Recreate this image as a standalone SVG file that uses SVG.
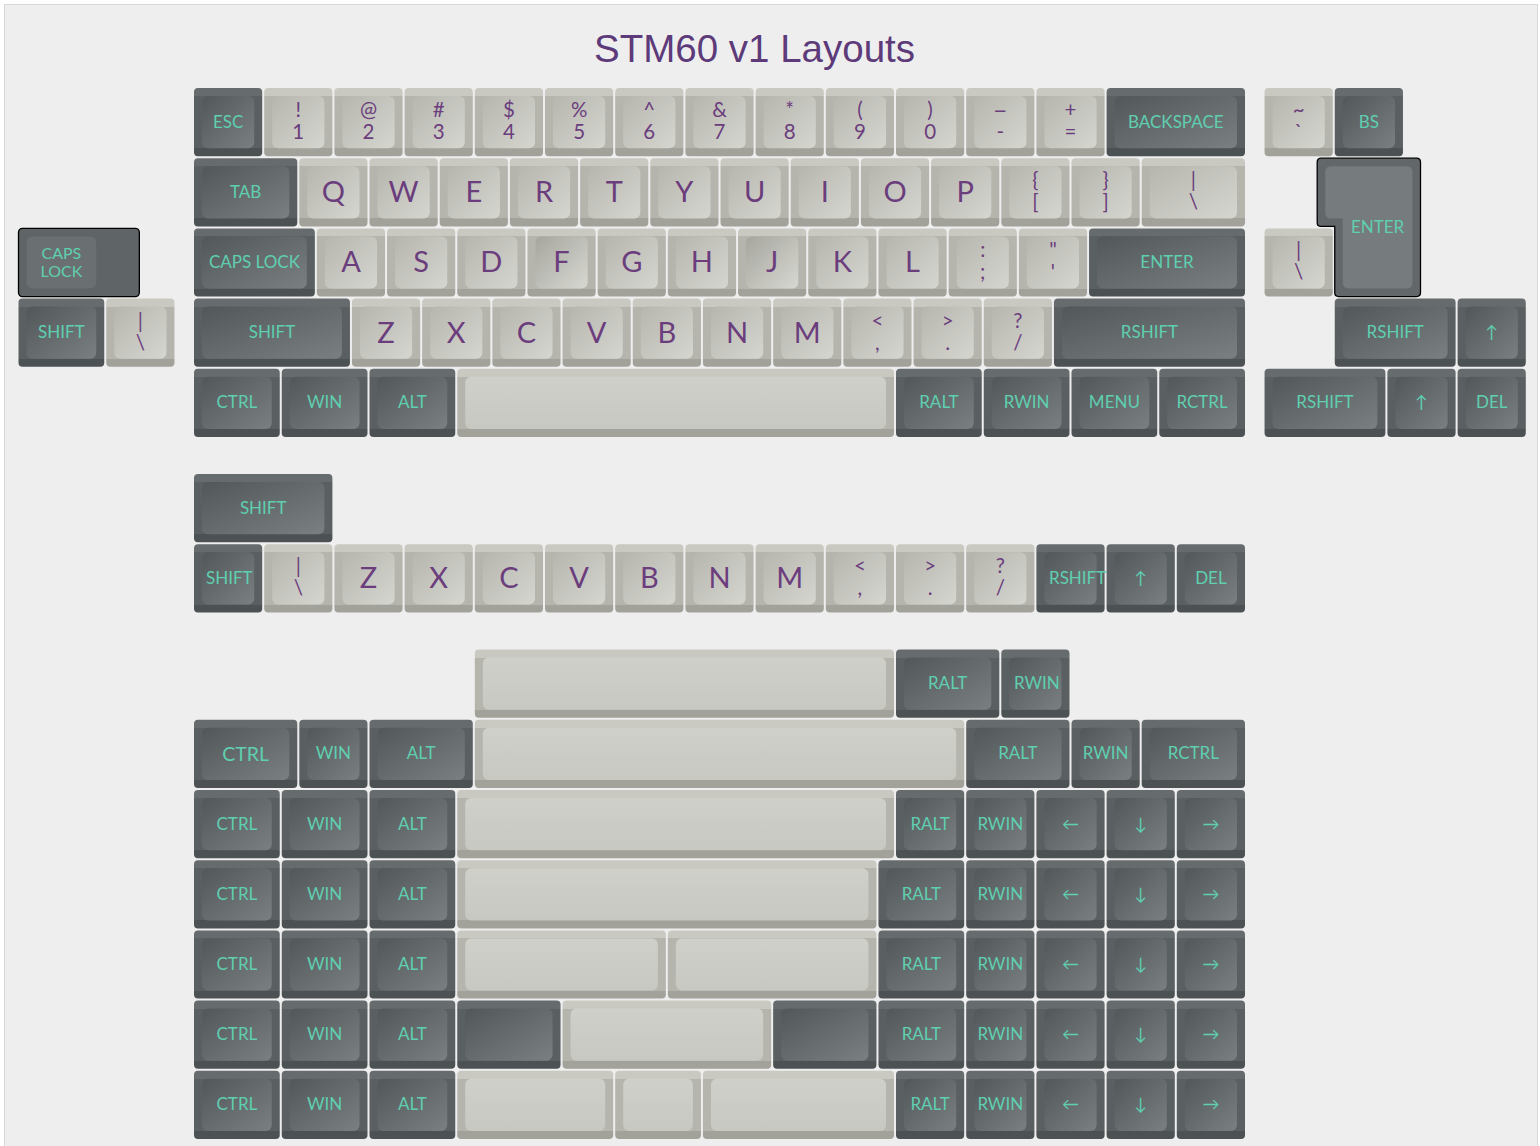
<svg xmlns="http://www.w3.org/2000/svg" xmlns:xlink="http://www.w3.org/1999/xlink" width="1540" height="1146" viewBox="0 0 1540 1146">
<defs>
<style>
.do{fill:url(#gdo)}
.di{fill:url(#gdi)}
.lo{fill:url(#glo)}
.li{fill:url(#gli)}
.lh{fill:url(#glh)}
.ls{fill:url(#gls)}
.t{font-family:Lato,"Noto Sans",sans-serif;font-size:17px;fill:#5fcfb0;text-anchor:middle}
.ts{text-anchor:start}
.p{font-family:Lato,"Noto Sans",sans-serif;font-size:20.5px;fill:#6b3d7d;text-anchor:middle}
.P{font-size:29px}
</style>
<linearGradient id="gdo" x1="0" y1="0" x2="0" y2="1">
<stop offset="0" stop-color="#666b6d"/><stop offset="0.117" stop-color="#666b6d"/><stop offset="0.117" stop-color="#5a5f61"/><stop offset="0.883" stop-color="#5a5f61"/><stop offset="0.883" stop-color="#4c5153"/><stop offset="1" stop-color="#4c5153"/>
</linearGradient>
<linearGradient id="gdi" x1="0" y1="0" x2="1" y2="1">
<stop offset="0" stop-color="#52575a"/><stop offset="1" stop-color="#7a8082"/>
</linearGradient>
<linearGradient id="glo" x1="0" y1="0" x2="0" y2="1">
<stop offset="0" stop-color="#c9c9c2"/><stop offset="0.117" stop-color="#c9c9c2"/><stop offset="0.117" stop-color="#b5b5ae"/><stop offset="0.883" stop-color="#b5b5ae"/><stop offset="0.883" stop-color="#a2a29b"/><stop offset="1" stop-color="#a2a29b"/>
</linearGradient>
<linearGradient id="gli" x1="0" y1="0" x2="1" y2="1">
<stop offset="0" stop-color="#b6b6af"/><stop offset="1" stop-color="#d6d6d0"/>
</linearGradient>
<linearGradient id="glh" x1="0" y1="0" x2="1" y2="1">
<stop offset="0" stop-color="#a6a69f"/><stop offset="1" stop-color="#d8d8d2"/>
</linearGradient>
<linearGradient id="gls" x1="0" y1="0" x2="0" y2="1">
<stop offset="0" stop-color="#d0d0ca"/><stop offset="1" stop-color="#c8c8c2"/>
</linearGradient>
<g id="D1"><rect class="do" width="68.2" height="68.2" rx="4"/><rect class="di" x="8" y="8" width="52.2" height="52.2" rx="6"/></g>
<g id="D125"><rect class="do" width="85.75" height="68.2" rx="4"/><rect class="di" x="8" y="8" width="69.75" height="52.2" rx="6"/></g>
<g id="D15"><rect class="do" width="103.3" height="68.2" rx="4"/><rect class="di" x="8" y="8" width="87.3" height="52.2" rx="6"/></g>
<g id="D175"><rect class="do" width="120.85" height="68.2" rx="4"/><rect class="di" x="8" y="8" width="104.85" height="52.2" rx="6"/></g>
<g id="D2"><rect class="do" width="138.4" height="68.2" rx="4"/><rect class="di" x="8" y="8" width="122.4" height="52.2" rx="6"/></g>
<g id="D225"><rect class="do" width="155.95" height="68.2" rx="4"/><rect class="di" x="8" y="8" width="139.95" height="52.2" rx="6"/></g>
<g id="D275"><rect class="do" width="191.05" height="68.2" rx="4"/><rect class="di" x="8" y="8" width="175.05" height="52.2" rx="6"/></g>
<g id="L1"><rect class="lo" width="68.2" height="68.2" rx="4"/><rect class="li" x="8" y="8" width="52.2" height="52.2" rx="6"/></g>
<g id="L1h"><rect class="lo" width="68.2" height="68.2" rx="4"/><rect class="lh" x="8" y="8" width="52.2" height="52.2" rx="6"/></g>
<g id="L15"><rect class="lo" width="103.3" height="68.2" rx="4"/><rect class="li" x="8" y="8" width="87.3" height="52.2" rx="6"/></g>
</defs>
<rect width="1540" height="1146" fill="#ffffff"/>
<rect x="4.5" y="4.5" width="1533" height="1160" fill="#eeeeee" stroke="#d8d8d8"/>
<text id="title" x="754.5" y="62" font-family="Liberation Sans,Arial,sans-serif" font-size="38.5" fill="#5d3a79" text-anchor="middle">STM60 v1 Layouts</text>

<g id="row0">
<g id="k-esc"><use href="#D1" x="194" y="88"/><text class="t" x="228.1" y="127.5">ESC</text></g>
<g id="k-1"><use href="#L1" x="264.2" y="88"/><text class="p" x="298.3" y="117">!</text><text class="p" x="298.3" y="139">1</text></g>
<g id="k-2"><use href="#L1" x="334.4" y="88"/><text class="p" x="368.5" y="117">@</text><text class="p" x="368.5" y="139">2</text></g>
<g id="k-3"><use href="#L1" x="404.6" y="88"/><text class="p" x="438.7" y="117">#</text><text class="p" x="438.7" y="139">3</text></g>
<g id="k-4"><use href="#L1" x="474.8" y="88"/><text class="p" x="508.9" y="117">$</text><text class="p" x="508.9" y="139">4</text></g>
<g id="k-5"><use href="#L1" x="545" y="88"/><text class="p" x="579.1" y="117">%</text><text class="p" x="579.1" y="139">5</text></g>
<g id="k-6"><use href="#L1" x="615.2" y="88"/><text class="p" x="649.3" y="117">^</text><text class="p" x="649.3" y="139">6</text></g>
<g id="k-7"><use href="#L1" x="685.4" y="88"/><text class="p" x="719.5" y="117">&amp;</text><text class="p" x="719.5" y="139">7</text></g>
<g id="k-8"><use href="#L1" x="755.6" y="88"/><text class="p" x="789.7" y="117">*</text><text class="p" x="789.7" y="139">8</text></g>
<g id="k-9"><use href="#L1" x="825.8" y="88"/><text class="p" x="859.9" y="117">(</text><text class="p" x="859.9" y="139">9</text></g>
<g id="k-0"><use href="#L1" x="896" y="88"/><text class="p" x="930.1" y="117">)</text><text class="p" x="930.1" y="139">0</text></g>
<g id="k-minus"><use href="#L1" x="966.2" y="88"/><text class="p" x="1000.3" y="108" style="font-size:26px">_</text><text class="p" x="1000.3" y="139">-</text></g>
<g id="k-equal"><use href="#L1" x="1036.4" y="88"/><text class="p" x="1070.5" y="117">+</text><text class="p" x="1070.5" y="139">=</text></g>
<g id="k-bksp"><use href="#D2" x="1106.6" y="88"/><text class="t" x="1175.8" y="127.5">BACKSPACE</text></g>
<g id="k-grave"><use href="#L1" x="1264.55" y="88"/><text class="p" x="1298.65" y="117">~</text><text class="p" x="1298.65" y="139">`</text></g>
<g id="k-bs"><use href="#D1" x="1334.75" y="88"/><text class="t" x="1368.85" y="127.5">BS</text></g>
</g>

<g id="row1">
<g id="k-tab"><use href="#D15" x="194" y="158.2"/><text class="t" x="245.65" y="197.7">TAB</text></g>
<g id="k-q"><use href="#L1" x="299.3" y="158.2"/><text class="p P" x="333.4" y="202.2">Q</text></g>
<g id="k-w"><use href="#L1" x="369.5" y="158.2"/><text class="p P" x="403.6" y="202.2">W</text></g>
<g id="k-e"><use href="#L1" x="439.7" y="158.2"/><text class="p P" x="473.8" y="202.2">E</text></g>
<g id="k-r"><use href="#L1" x="509.9" y="158.2"/><text class="p P" x="544" y="202.2">R</text></g>
<g id="k-t"><use href="#L1" x="580.1" y="158.2"/><text class="p P" x="614.2" y="202.2">T</text></g>
<g id="k-y"><use href="#L1" x="650.3" y="158.2"/><text class="p P" x="684.4" y="202.2">Y</text></g>
<g id="k-u"><use href="#L1" x="720.5" y="158.2"/><text class="p P" x="754.6" y="202.2">U</text></g>
<g id="k-i"><use href="#L1" x="790.7" y="158.2"/><text class="p P" x="824.8" y="202.2">I</text></g>
<g id="k-o"><use href="#L1" x="860.9" y="158.2"/><text class="p P" x="895" y="202.2">O</text></g>
<g id="k-p"><use href="#L1" x="931.1" y="158.2"/><text class="p P" x="965.2" y="202.2">P</text></g>
<g id="k-lbr"><use href="#L1" x="1001.3" y="158.2"/><text class="p" x="1035.4" y="187.2">{</text><text class="p" x="1035.4" y="209.2">[</text></g>
<g id="k-rbr"><use href="#L1" x="1071.5" y="158.2"/><text class="p" x="1105.6" y="187.2">}</text><text class="p" x="1105.6" y="209.2">]</text></g>
<g id="k-bsl"><use href="#L15" x="1141.7" y="158.2"/><text class="p" x="1193.35" y="187.2">|</text><text class="p" x="1193.35" y="209.2">\</text></g>
<g id="k-isoenter">
<path d="M1321.2,158.2 H1416.5 Q1420.5,158.2 1420.5,162.2 V292.6 Q1420.5,296.6 1416.5,296.6 H1338.75 Q1334.75,296.6 1334.75,292.6 V226.4 H1321.2 Q1317.2,226.4 1317.2,222.4 V162.2 Q1317.2,158.2 1321.2,158.2 Z" fill="#62676a" stroke="#000" stroke-width="1.3"/>
<path d="M1331.2,166.2 H1406.5 Q1412.5,166.2 1412.5,172.2 V282.6 Q1412.5,288.6 1406.5,288.6 H1348.75 Q1342.75,288.6 1342.75,282.6 V218.4 H1331.2 Q1325.2,218.4 1325.2,212.4 V172.2 Q1325.2,166.2 1331.2,166.2 Z" fill="#767b7d"/>
<text class="t" x="1377.6" y="233">ENTER</text>
</g>
</g>

<g id="row2">
<g id="k-caps"><use href="#D175" x="194" y="228.4"/><text class="t" x="254.4" y="267.9">CAPS LOCK</text></g>
<g id="k-a"><use href="#L1" x="316.85" y="228.4"/><text class="p P" x="350.95" y="272.4">A</text></g>
<g id="k-s"><use href="#L1" x="387.05" y="228.4"/><text class="p P" x="421.15" y="272.4">S</text></g>
<g id="k-d"><use href="#L1" x="457.25" y="228.4"/><text class="p P" x="491.35" y="272.4">D</text></g>
<g id="k-f"><use href="#L1h" x="527.45" y="228.4"/><text class="p P" x="561.55" y="272.4">F</text></g>
<g id="k-g"><use href="#L1" x="597.65" y="228.4"/><text class="p P" x="631.75" y="272.4">G</text></g>
<g id="k-h"><use href="#L1" x="667.85" y="228.4"/><text class="p P" x="701.95" y="272.4">H</text></g>
<g id="k-j"><use href="#L1h" x="738.05" y="228.4"/><text class="p P" x="772.15" y="272.4">J</text></g>
<g id="k-k"><use href="#L1" x="808.25" y="228.4"/><text class="p P" x="842.35" y="272.4">K</text></g>
<g id="k-l"><use href="#L1" x="878.45" y="228.4"/><text class="p P" x="912.55" y="272.4">L</text></g>
<g id="k-semi"><use href="#L1" x="948.65" y="228.4"/><text class="p" x="982.75" y="257.4">:</text><text class="p" x="982.75" y="279.4">;</text></g>
<g id="k-quote"><use href="#L1" x="1018.85" y="228.4"/><text class="p" x="1052.95" y="257.4">"</text><text class="p" x="1052.95" y="279.4">'</text></g>
<g id="k-enter"><use href="#D225" x="1089.05" y="228.4"/><text class="t" x="1167" y="267.9">ENTER</text></g>
<g id="k-capsstep">
<rect x="18.5" y="228.4" width="120.85" height="68.2" rx="4" fill="#5f6466" stroke="#000" stroke-width="1.3"/>
<rect x="26.5" y="236.4" width="69.75" height="52.2" rx="6" fill="#6a6f71"/>
<text class="t" x="61.4" y="259" style="font-size:16px">CAPS</text><text class="t" x="61.4" y="276.5" style="font-size:16px">LOCK</text>
</g>
<g id="k-bsl2"><use href="#L1" x="1264.55" y="228.4"/><text class="p" x="1298.65" y="257.4">|</text><text class="p" x="1298.65" y="279.4">\</text></g>
</g>

<g id="row3">
<g id="k-lshift"><use href="#D225" x="194" y="298.6"/><text class="t" x="271.98" y="338.1">SHIFT</text></g>
<g id="k-z"><use href="#L1" x="351.95" y="298.6"/><text class="p P" x="386.05" y="342.6">Z</text></g>
<g id="k-x"><use href="#L1" x="422.15" y="298.6"/><text class="p P" x="456.25" y="342.6">X</text></g>
<g id="k-c"><use href="#L1" x="492.35" y="298.6"/><text class="p P" x="526.45" y="342.6">C</text></g>
<g id="k-v"><use href="#L1" x="562.55" y="298.6"/><text class="p P" x="596.65" y="342.6">V</text></g>
<g id="k-b"><use href="#L1" x="632.75" y="298.6"/><text class="p P" x="666.85" y="342.6">B</text></g>
<g id="k-n"><use href="#L1" x="702.95" y="298.6"/><text class="p P" x="737.05" y="342.6">N</text></g>
<g id="k-m"><use href="#L1" x="773.15" y="298.6"/><text class="p P" x="807.25" y="342.6">M</text></g>
<g id="k-comma"><use href="#L1" x="843.35" y="298.6"/><text class="p" x="877.45" y="327.6">&lt;</text><text class="p" x="877.45" y="349.6">,</text></g>
<g id="k-dot"><use href="#L1" x="913.55" y="298.6"/><text class="p" x="947.65" y="327.6">&gt;</text><text class="p" x="947.65" y="349.6">.</text></g>
<g id="k-slash"><use href="#L1" x="983.75" y="298.6"/><text class="p" x="1017.85" y="327.6">?</text><text class="p" x="1017.85" y="349.6">/</text></g>
<g id="k-rshift"><use href="#D275" x="1053.95" y="298.6"/><text class="t" x="1149.5" y="338.1">RSHIFT</text></g>
<g id="k-lshift2"><use href="#D125" x="18.5" y="298.6"/><text class="t" x="61.4" y="338.1">SHIFT</text></g>
<g id="k-bsl3"><use href="#L1" x="106.25" y="298.6"/><text class="p" x="140.35" y="327.6">|</text><text class="p" x="140.35" y="349.6">\</text></g>
<g id="k-rshift2"><use href="#D175" x="1334.75" y="298.6"/><text class="t" x="1395.2" y="338.1">RSHIFT</text></g>
<g id="k-up1"><use href="#D1" x="1457.6" y="298.6"/><text class="t" x="1491.7" y="338.1">↑</text></g>
</g>

<g id="row4">
<g id="k-ctrl4"><use href="#D125" x="194" y="368.8"/><text class="t" x="236.9" y="408.3">CTRL</text></g>
<g id="k-win4"><use href="#D125" x="281.75" y="368.8"/><text class="t" x="324.6" y="408.3">WIN</text></g>
<g id="k-alt4"><use href="#D125" x="369.5" y="368.8"/><text class="t" x="412.4" y="408.3">ALT</text></g>
<g id="k-space4"><rect class="lo" x="457.25" y="368.8" width="436.75" height="68.2" rx="4"/><rect class="ls" x="465.25" y="376.8" width="420.75" height="52.2" rx="6"/></g>
<g id="k-ralt4"><use href="#D125" x="896" y="368.8"/><text class="t" x="938.9" y="408.3">RALT</text></g>
<g id="k-rwin4"><use href="#D125" x="983.75" y="368.8"/><text class="t" x="1026.6" y="408.3">RWIN</text></g>
<g id="k-menu4"><use href="#D125" x="1071.5" y="368.8"/><text class="t" x="1114.4" y="408.3">MENU</text></g>
<g id="k-rctrl4"><use href="#D125" x="1159.25" y="368.8"/><text class="t" x="1202.1" y="408.3">RCTRL</text></g>
<g id="k-rshift3"><use href="#D175" x="1264.55" y="368.8"/><text class="t" x="1324.95" y="408.3">RSHIFT</text></g>
<g id="k-up2"><use href="#D1" x="1387.4" y="368.8"/><text class="t" x="1421.5" y="408.3">↑</text></g>
<g id="k-del1"><use href="#D1" x="1457.6" y="368.8"/><text class="t" x="1491.7" y="408.3">DEL</text></g>
</g>

<g id="row5">
<g id="k-shift2u"><use href="#D2" x="194" y="474.1"/><text class="t" x="263.2" y="513.6">SHIFT</text></g>
</g>

<g id="row6">
<g id="k-shift1u"><use href="#D1" x="194" y="544.3"/><text class="t ts" x="206" y="583.8">SHIFT</text></g>
<g id="k-bsl4"><use href="#L1" x="264.2" y="544.3"/><text class="p" x="298.3" y="573.3">|</text><text class="p" x="298.3" y="595.3">\</text></g>
<g id="k-z2"><use href="#L1" x="334.4" y="544.3"/><text class="p P" x="368.5" y="588.3">Z</text></g>
<g id="k-x2"><use href="#L1" x="404.6" y="544.3"/><text class="p P" x="438.7" y="588.3">X</text></g>
<g id="k-c2"><use href="#L1" x="474.8" y="544.3"/><text class="p P" x="508.9" y="588.3">C</text></g>
<g id="k-v2"><use href="#L1" x="545" y="544.3"/><text class="p P" x="579.1" y="588.3">V</text></g>
<g id="k-b2"><use href="#L1" x="615.2" y="544.3"/><text class="p P" x="649.3" y="588.3">B</text></g>
<g id="k-n2"><use href="#L1" x="685.4" y="544.3"/><text class="p P" x="719.5" y="588.3">N</text></g>
<g id="k-m2"><use href="#L1" x="755.6" y="544.3"/><text class="p P" x="789.7" y="588.3">M</text></g>
<g id="k-comma2"><use href="#L1" x="825.8" y="544.3"/><text class="p" x="859.9" y="573.3">&lt;</text><text class="p" x="859.9" y="595.3">,</text></g>
<g id="k-dot2"><use href="#L1" x="896" y="544.3"/><text class="p" x="930.1" y="573.3">&gt;</text><text class="p" x="930.1" y="595.3">.</text></g>
<g id="k-slash2"><use href="#L1" x="966.2" y="544.3"/><text class="p" x="1000.3" y="573.3">?</text><text class="p" x="1000.3" y="595.3">/</text></g>
<g id="k-rshift1u"><use href="#D1" x="1036.4" y="544.3"/><text class="t ts" x="1049" y="583.8">RSHIFT</text></g>
<g id="k-up3"><use href="#D1" x="1106.6" y="544.3"/><text class="t" x="1140.7" y="583.8">↑</text></g>
<g id="k-del2"><use href="#D1" x="1176.8" y="544.3"/><text class="t" x="1210.9" y="583.8">DEL</text></g>
</g>

<g id="row8">
<g id="k-space8"><rect class="lo" x="474.8" y="649.6" width="419.2" height="68.2" rx="4"/><rect class="ls" x="482.8" y="657.6" width="403.2" height="52.2" rx="6"/></g>
<g id="k-ralt8"><use href="#D15" x="896" y="649.6"/><text class="t" x="947.65" y="689.1">RALT</text></g>
<g id="k-rwin8"><use href="#D1" x="1001.3" y="649.6"/><text class="t ts" x="1014" y="689.1">RWIN</text></g>
</g>

<g id="row9">
<g id="k-ctrl9"><use href="#D15" x="194" y="719.8"/><text class="t" x="245.65" y="760.5" style="font-size:19.5px">CTRL</text></g>
<g id="k-win9"><use href="#D1" x="299.3" y="719.8"/><text class="t" x="333.4" y="759.3">WIN</text></g>
<g id="k-alt9"><use href="#D15" x="369.5" y="719.8"/><text class="t" x="421.15" y="759.3">ALT</text></g>
<g id="k-space9"><rect class="lo" x="474.8" y="719.8" width="489.4" height="68.2" rx="4"/><rect class="ls" x="482.8" y="727.8" width="473.4" height="52.2" rx="6"/></g>
<g id="k-ralt9"><use href="#D15" x="966.2" y="719.8"/><text class="t" x="1017.85" y="759.3">RALT</text></g>
<g id="k-rwin9"><use href="#D1" x="1071.5" y="719.8"/><text class="t" x="1105.6" y="759.3">RWIN</text></g>
<g id="k-rctrl9"><use href="#D15" x="1141.7" y="719.8"/><text class="t" x="1193.35" y="759.3">RCTRL</text></g>
</g>

<g id="row10">
<g id="k-ctrl10"><use href="#D125" x="194" y="790"/><text class="t" x="236.9" y="829.5">CTRL</text></g>
<g id="k-win10"><use href="#D125" x="281.75" y="790"/><text class="t" x="324.6" y="829.5">WIN</text></g>
<g id="k-alt10"><use href="#D125" x="369.5" y="790"/><text class="t" x="412.4" y="829.5">ALT</text></g>
<g id="k-space10"><rect class="lo" x="457.25" y="790" width="436.75" height="68.2" rx="4"/><rect class="ls" x="465.25" y="798" width="420.75" height="52.2" rx="6"/></g>
<g id="k-ralt10"><use href="#D1" x="896" y="790"/><text class="t" x="930.1" y="829.5">RALT</text></g>
<g id="k-rwin10"><use href="#D1" x="966.2" y="790"/><text class="t" x="1000.3" y="829.5">RWIN</text></g>
<g id="k-left10"><use href="#D1" x="1036.4" y="790"/><text class="t" x="1070.5" y="829.5">←</text></g>
<g id="k-down10"><use href="#D1" x="1106.6" y="790"/><text class="t" x="1140.7" y="829.5">↓</text></g>
<g id="k-right10"><use href="#D1" x="1176.8" y="790"/><text class="t" x="1210.9" y="829.5">→</text></g>
</g>

<g id="row11">
<g id="k-ctrl11"><use href="#D125" x="194" y="860.2"/><text class="t" x="236.9" y="899.7">CTRL</text></g>
<g id="k-win11"><use href="#D125" x="281.75" y="860.2"/><text class="t" x="324.6" y="899.7">WIN</text></g>
<g id="k-alt11"><use href="#D125" x="369.5" y="860.2"/><text class="t" x="412.4" y="899.7">ALT</text></g>
<g id="k-space11"><rect class="lo" x="457.25" y="860.2" width="419.2" height="68.2" rx="4"/><rect class="ls" x="465.25" y="868.2" width="403.2" height="52.2" rx="6"/></g>
<g id="k-ralt11"><use href="#D125" x="878.45" y="860.2"/><text class="t" x="921.3" y="899.7">RALT</text></g>
<g id="k-rwin11"><use href="#D1" x="966.2" y="860.2"/><text class="t" x="1000.3" y="899.7">RWIN</text></g>
<g id="k-left11"><use href="#D1" x="1036.4" y="860.2"/><text class="t" x="1070.5" y="899.7">←</text></g>
<g id="k-down11"><use href="#D1" x="1106.6" y="860.2"/><text class="t" x="1140.7" y="899.7">↓</text></g>
<g id="k-right11"><use href="#D1" x="1176.8" y="860.2"/><text class="t" x="1210.9" y="899.7">→</text></g>
</g>

<g id="row12">
<g id="k-ctrl12"><use href="#D125" x="194" y="930.4"/><text class="t" x="236.9" y="969.9">CTRL</text></g>
<g id="k-win12"><use href="#D125" x="281.75" y="930.4"/><text class="t" x="324.6" y="969.9">WIN</text></g>
<g id="k-alt12"><use href="#D125" x="369.5" y="930.4"/><text class="t" x="412.4" y="969.9">ALT</text></g>
<g id="k-space12a"><rect class="lo" x="457.25" y="930.4" width="208.6" height="68.2" rx="4"/><rect class="ls" x="465.25" y="938.4" width="192.6" height="52.2" rx="6"/></g>
<g id="k-space12b"><rect class="lo" x="667.85" y="930.4" width="208.6" height="68.2" rx="4"/><rect class="ls" x="675.85" y="938.4" width="192.6" height="52.2" rx="6"/></g>
<g id="k-ralt12"><use href="#D125" x="878.45" y="930.4"/><text class="t" x="921.3" y="969.9">RALT</text></g>
<g id="k-rwin12"><use href="#D1" x="966.2" y="930.4"/><text class="t" x="1000.3" y="969.9">RWIN</text></g>
<g id="k-left12"><use href="#D1" x="1036.4" y="930.4"/><text class="t" x="1070.5" y="969.9">←</text></g>
<g id="k-down12"><use href="#D1" x="1106.6" y="930.4"/><text class="t" x="1140.7" y="969.9">↓</text></g>
<g id="k-right12"><use href="#D1" x="1176.8" y="930.4"/><text class="t" x="1210.9" y="969.9">→</text></g>
</g>

<g id="row13">
<g id="k-ctrl13"><use href="#D125" x="194" y="1000.6"/><text class="t" x="236.9" y="1040.1">CTRL</text></g>
<g id="k-win13"><use href="#D125" x="281.75" y="1000.6"/><text class="t" x="324.6" y="1040.1">WIN</text></g>
<g id="k-alt13"><use href="#D125" x="369.5" y="1000.6"/><text class="t" x="412.4" y="1040.1">ALT</text></g>
<g id="k-blank13a"><use href="#D15" x="457.25" y="1000.6"/></g>
<g id="k-space13"><rect class="lo" x="562.55" y="1000.6" width="208.6" height="68.2" rx="4"/><rect class="ls" x="570.55" y="1008.6" width="192.6" height="52.2" rx="6"/></g>
<g id="k-blank13b"><use href="#D15" x="773.15" y="1000.6"/></g>
<g id="k-ralt13"><use href="#D125" x="878.45" y="1000.6"/><text class="t" x="921.3" y="1040.1">RALT</text></g>
<g id="k-rwin13"><use href="#D1" x="966.2" y="1000.6"/><text class="t" x="1000.3" y="1040.1">RWIN</text></g>
<g id="k-left13"><use href="#D1" x="1036.4" y="1000.6"/><text class="t" x="1070.5" y="1040.1">←</text></g>
<g id="k-down13"><use href="#D1" x="1106.6" y="1000.6"/><text class="t" x="1140.7" y="1040.1">↓</text></g>
<g id="k-right13"><use href="#D1" x="1176.8" y="1000.6"/><text class="t" x="1210.9" y="1040.1">→</text></g>
</g>

<g id="row14">
<g id="k-ctrl14"><use href="#D125" x="194" y="1070.8"/><text class="t" x="236.9" y="1110.3">CTRL</text></g>
<g id="k-win14"><use href="#D125" x="281.75" y="1070.8"/><text class="t" x="324.6" y="1110.3">WIN</text></g>
<g id="k-alt14"><use href="#D125" x="369.5" y="1070.8"/><text class="t" x="412.4" y="1110.3">ALT</text></g>
<g id="k-space14a"><rect class="lo" x="457.25" y="1070.8" width="155.95" height="68.2" rx="4"/><rect class="ls" x="465.25" y="1078.8" width="139.95" height="52.2" rx="6"/></g>
<g id="k-space14b"><rect class="lo" x="615.2" y="1070.8" width="85.75" height="68.2" rx="4"/><rect class="ls" x="623.2" y="1078.8" width="69.75" height="52.2" rx="6"/></g>
<g id="k-space14c"><rect class="lo" x="702.95" y="1070.8" width="191.05" height="68.2" rx="4"/><rect class="ls" x="710.95" y="1078.8" width="175.05" height="52.2" rx="6"/></g>
<g id="k-ralt14"><use href="#D1" x="896" y="1070.8"/><text class="t" x="930.1" y="1110.3">RALT</text></g>
<g id="k-rwin14"><use href="#D1" x="966.2" y="1070.8"/><text class="t" x="1000.3" y="1110.3">RWIN</text></g>
<g id="k-left14"><use href="#D1" x="1036.4" y="1070.8"/><text class="t" x="1070.5" y="1110.3">←</text></g>
<g id="k-down14"><use href="#D1" x="1106.6" y="1070.8"/><text class="t" x="1140.7" y="1110.3">↓</text></g>
<g id="k-right14"><use href="#D1" x="1176.8" y="1070.8"/><text class="t" x="1210.9" y="1110.3">→</text></g>
</g>
</svg>
